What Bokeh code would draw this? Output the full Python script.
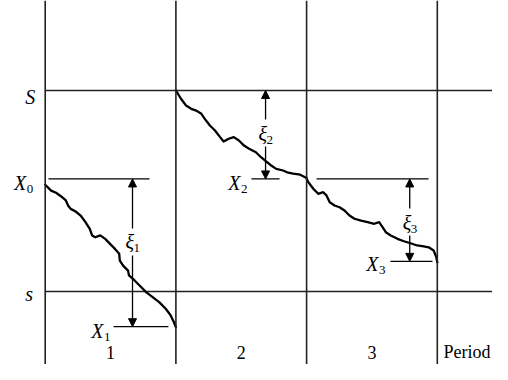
from bokeh.plotting import figure
from bokeh.models import Range1d, Span, Arrow, NormalHead
from bokeh.core.properties import value
from bokeh.embed import file_html
from bokeh.resources import INLINE

# ---------------- data ----------------
period_bounds = [0, 1, 2, 3]
period_labels = ["1", "2", "3"]
period_label_t = [0.5, 1.5, 2.5]
axis_title = "Period"

S_level = 120
s_level = 20
X_levels = [76, 2.5, 76, 35]          # X0, X1, X2, X3

# inventory paths within each period (time in periods, level)
curve1_t = [0, 0.045, 0.083, 0.120, 0.158, 0.175, 0.195, 0.233, 0.271, 0.308, 0.341,
            0.359, 0.383, 0.421, 0.459, 0.496, 0.534, 0.566, 0.571, 0.596, 0.634,
            0.641, 0.684, 0.722, 0.772, 0.822, 0.872, 0.922, 0.960, 0.985, 1.0]
curve1_y = [73.1, 70.2, 69.1, 67.4, 65.3, 62.8, 61.1, 59.8, 57.8, 54.5, 51.2,
            47.9, 47.0, 47.9, 46.2, 43.7, 41.2, 38.8, 35.4, 32.9, 30.4,
            28.0, 25.5, 23.0, 19.7, 17.2, 14.7, 11.4, 8.1, 4.7, 2.2]

curve2_t = [1.0, 1.039, 1.078, 1.117, 1.156, 1.195, 1.221, 1.260, 1.299, 1.338, 1.365,
            1.404, 1.443, 1.482, 1.521, 1.560, 1.612, 1.651, 1.690, 1.729, 1.768,
            1.820, 1.859, 1.898, 1.951, 2.0]
curve2_y = [120.0, 115.9, 112.5, 110.9, 110.0, 108.4, 105.9, 102.6, 100.1, 96.8, 94.6,
            96.0, 96.8, 95.1, 92.6, 91.0, 89.3, 86.8, 84.7, 82.7, 81.0,
            80.2, 79.1, 78.6, 78.1, 76.5]

curve3_t = [2.0, 2.013, 2.051, 2.089, 2.127, 2.152, 2.177, 2.214, 2.252, 2.290, 2.328,
            2.366, 2.417, 2.467, 2.517, 2.555, 2.581, 2.606, 2.644, 2.695, 2.745,
            2.795, 2.846, 2.896, 2.934, 2.972, 2.992, 3.0]
curve3_y = [76.2, 74.4, 71.1, 68.6, 69.4, 67.8, 64.4, 62.8, 61.9, 60.3, 57.8,
            56.2, 55.3, 54.5, 53.7, 54.5, 52.0, 49.5, 47.9, 46.2, 45.0,
            44.0, 42.9, 42.4, 42.0, 40.4, 37.1, 34.6]

# short level marker lines
mark_t0 = [0.025, 0.523, 1.578, 2.076, 2.641]
mark_t1 = [0.798, 0.943, 1.793, 2.933, 2.963]
mark_level = [X_levels[0], X_levels[1], X_levels[2], X_levels[2], X_levels[3]]

# xi (demand) arrows
xi_t = [0.668, 1.686, 2.789]
xi_top = [X_levels[0], S_level, X_levels[2]]
xi_bottom = [X_levels[1], X_levels[2], X_levels[3]]
xi_label_level = [44.4, 98.6, 54.3]
xi_sub = ["1", "2", "3"]

# ---------------- figure ----------------
W, H = 492, 364
x0, x1 = -0.342, 3.4223
y0, y1 = -16.32, 164.78
PPU_Y = H / (y1 - y0)
PPU_X = W / (x1 - x0)


def dy(px):
    return px / PPU_Y


p = figure(width=W, height=H, output_backend="svg", toolbar_location=None,
           x_range=Range1d(x0, x1), y_range=Range1d(y0, y1),
           min_border=0, min_border_left=0, min_border_right=0,
           min_border_top=0, min_border_bottom=0)
p.xaxis.visible = False
p.yaxis.visible = False
p.grid.visible = False
p.outline_line_color = None
p.background_fill_color = "white"
p.border_fill_color = "white"

FRAME = "#222222"
for b in period_bounds:
    p.add_layout(Span(location=b, dimension="height", line_color=FRAME, line_width=1.6))

p.segment(x0=[0, 0], y0=[S_level, s_level], x1=[x1 + 1, x1 + 1], y1=[S_level, s_level],
          line_color=FRAME, line_width=1.6)

for ct, cy in [(curve1_t, curve1_y), (curve2_t, curve2_y), (curve3_t, curve3_y)]:
    p.line(ct, cy, line_color="black", line_width=2.3, line_join="round", line_cap="round")

p.segment(x0=mark_t0, y0=mark_level, x1=mark_t1, y1=mark_level,
          line_color="black", line_width=1.3)

GAP_UP, GAP_DN = 14, 13
for t, top, bot, lab in zip(xi_t, xi_top, xi_bottom, xi_label_level):
    p.add_layout(Arrow(x_start=t, y_start=lab + dy(GAP_UP), x_end=t, y_end=top,
                       line_color="black", line_width=1.3,
                       end=NormalHead(size=8, fill_color="black", line_color="black", line_width=1)))
    p.add_layout(Arrow(x_start=t, y_start=lab - dy(GAP_DN), x_end=t, y_end=bot,
                       line_color="black", line_width=1.3,
                       end=NormalHead(size=8, fill_color="black", line_color="black", line_width=1)))

SERIF = value("Liberation Serif")

# xi labels
p.text(x=xi_t, y=xi_label_level, text=["ξ"] * 3, text_font=SERIF, text_font_style="italic",
       text_font_size="20px", text_align="right", text_baseline="middle", x_offset=1.5,
       text_color="black")
p.text(x=xi_t, y=[v - dy(6) for v in xi_label_level], text=xi_sub, text_font=SERIF,
       text_font_size="13px", text_align="left", text_baseline="middle", x_offset=1,
       text_color="black")

# S and s labels
p.text(x=[0, 0], y=[S_level - dy(6), s_level - dy(3)], text=["S", "s"], text_font=SERIF,
       text_font_style="italic", text_font_size="20px", text_align="center",
       text_baseline="alphabetic", x_offset=[-15, -16], text_color="black")

# X labels (X0 at the left edge, the others at the start of their marker line)
X_anchor_t = [0, mark_t0[1], mark_t0[2], mark_t0[4]]
X_xoff = [-19, -10, -11, -12]
X_base = [4, 4, 4, 3]
X_names = ["0", "1", "2", "3"]
p.text(x=X_anchor_t, y=[lv - dy(d) for lv, d in zip(X_levels, X_base)], text=["X"] * 4,
       text_font=SERIF, text_font_style="italic", text_font_size="20px",
       text_align="right", text_baseline="alphabetic", x_offset=X_xoff, text_color="black")
p.text(x=X_anchor_t, y=[lv - dy(d + 6) for lv, d in zip(X_levels, X_base)], text=X_names,
       text_font=SERIF, text_font_size="13px", text_align="left",
       text_baseline="alphabetic", x_offset=[o + 0.5 for o in X_xoff], text_color="black")

# period labels (kept fully inside the frame)
label_y = s_level - dy(61)
p.text(x=period_label_t, y=[label_y] * 3, text=period_labels, text_font=SERIF,
       text_font_size="18px", text_align="center", text_baseline="alphabetic",
       text_color="black")
# "Period" right-aligned just inside the right edge of the frame
period_xoff = (W - 2) - (period_bounds[-1] - x0) * PPU_X
p.text(x=[period_bounds[-1]], y=[label_y], text=[axis_title], text_font=SERIF,
       text_font_size="18px", text_align="right", text_baseline="alphabetic",
       x_offset=period_xoff, text_color="black")

open("out.html", "w").write(file_html(p, INLINE))
